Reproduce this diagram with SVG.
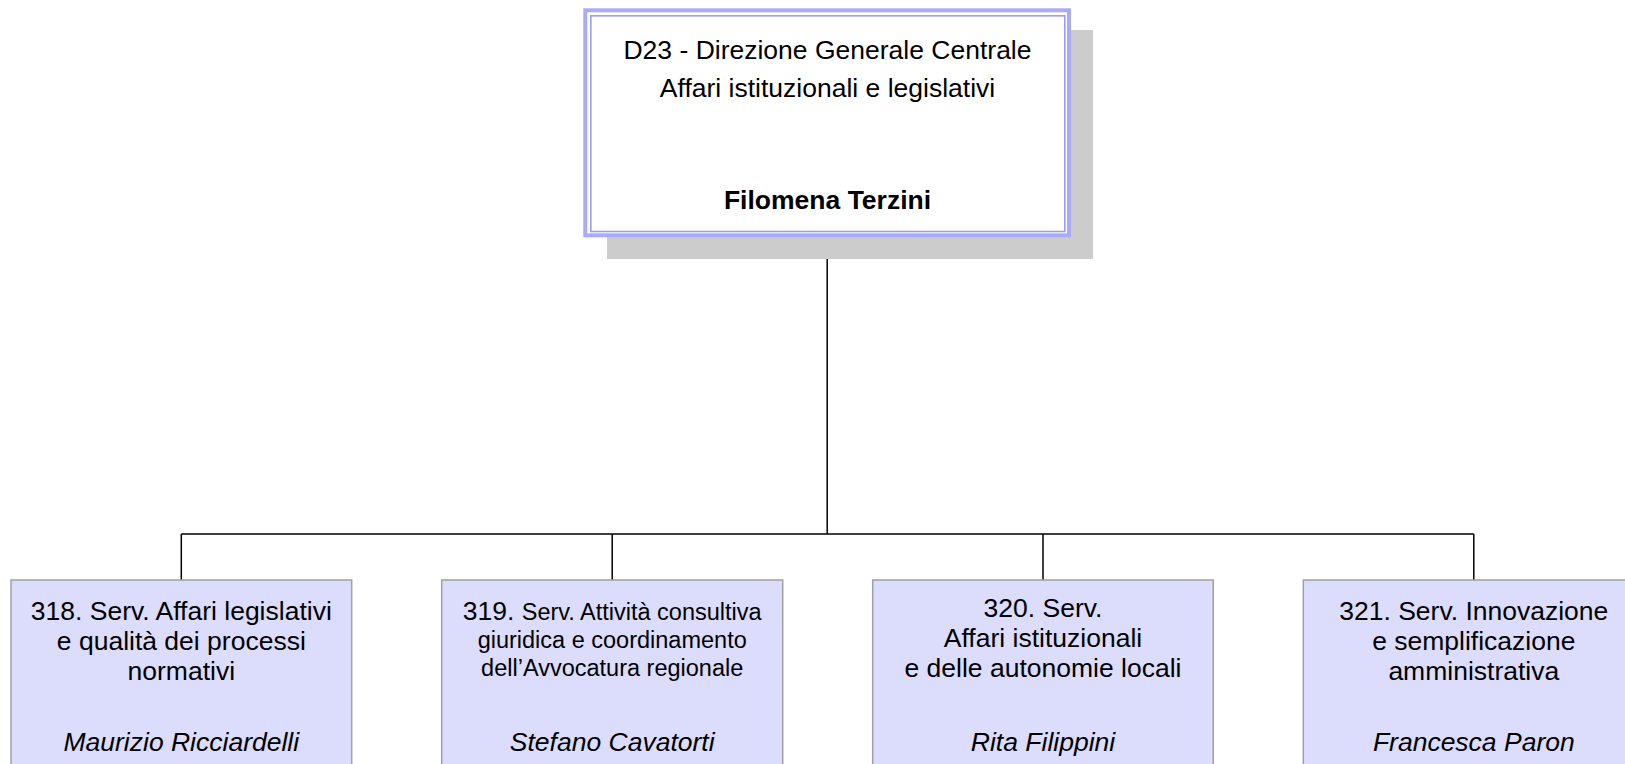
<svg xmlns="http://www.w3.org/2000/svg" width="1625" height="764" viewBox="0 0 1625 764">
<style>
text{font-family:"Liberation Sans",Arial,sans-serif;fill:#000;text-anchor:middle}
.t{font-size:26.5px}
.s{font-size:23.5px}
.b{font-weight:bold}
.i{font-style:italic}
.child{fill:#dcdcfc;stroke:#a0a0a0;stroke-width:1.5}
.conn{stroke:#000;stroke-width:1.5;fill:none}
</style>
<rect width="1625" height="764" fill="#fff"/>
<g id="connectors">
<path class="conn" d="M827.2,237 V534"/>
<path class="conn" d="M181.3,534 H1473.8"/>
<path class="conn" d="M181.3,534 V580"/>
<path class="conn" d="M612.2,534 V580"/>
<path class="conn" d="M1043,534 V580"/>
<path class="conn" d="M1473.8,534 V580"/>
</g>
<g id="node-d23">
<rect x="607" y="30" width="486" height="229" fill="#cccccc"/>
<rect x="585.3" y="10.3" width="483.7" height="225" fill="#fff" stroke="#aaaaf8" stroke-width="4"/>
<rect x="590.8" y="15.8" width="474" height="215.7" fill="#fff" stroke="#9c9cf4" stroke-width="1.6"/>
<text class="t" x="827.5" y="59">D23 - Direzione Generale Centrale</text>
<text class="t" x="827.5" y="96.5">Affari istituzionali e legislativi</text>
<text class="t b" x="827.5" y="209">Filomena Terzini</text>
</g>
<g id="node-318">
<rect class="child" x="11" y="580" width="340.7" height="200"/>
<text class="t" x="181.3" y="620">318. Serv. Affari legislativi</text>
<text class="t" x="181.3" y="650">e qualità dei processi</text>
<text class="t" x="181.3" y="680">normativi</text>
<text class="t i" x="181.3" y="751">Maurizio Ricciardelli</text>
</g>
<g id="node-319">
<rect class="child" x="441.7" y="580" width="341" height="200"/>
<text x="612.2" y="620"><tspan class="t">319. </tspan><tspan class="s">Serv. Attività consultiva</tspan></text>
<text class="s" x="612.2" y="648">giuridica e coordinamento</text>
<text class="s" x="612.2" y="676">dell’Avvocatura regionale</text>
<text class="t i" x="612.2" y="751">Stefano Cavatorti</text>
</g>
<g id="node-320">
<rect class="child" x="872.7" y="580" width="340.6" height="200"/>
<text class="t" x="1043" y="617">320. Serv.</text>
<text class="t" x="1043" y="647">Affari istituzionali</text>
<text class="t" x="1043" y="677">e delle autonomie locali</text>
<text class="t i" x="1043" y="751">Rita Filippini</text>
</g>
<g id="node-321">
<rect class="child" x="1303.3" y="580" width="341" height="200"/>
<text class="t" x="1473.8" y="620">321. Serv. Innovazione</text>
<text class="t" x="1473.8" y="650">e semplificazione</text>
<text class="t" x="1473.8" y="680">amministrativa</text>
<text class="t i" x="1473.8" y="751">Francesca Paron</text>
</g>
</svg>
